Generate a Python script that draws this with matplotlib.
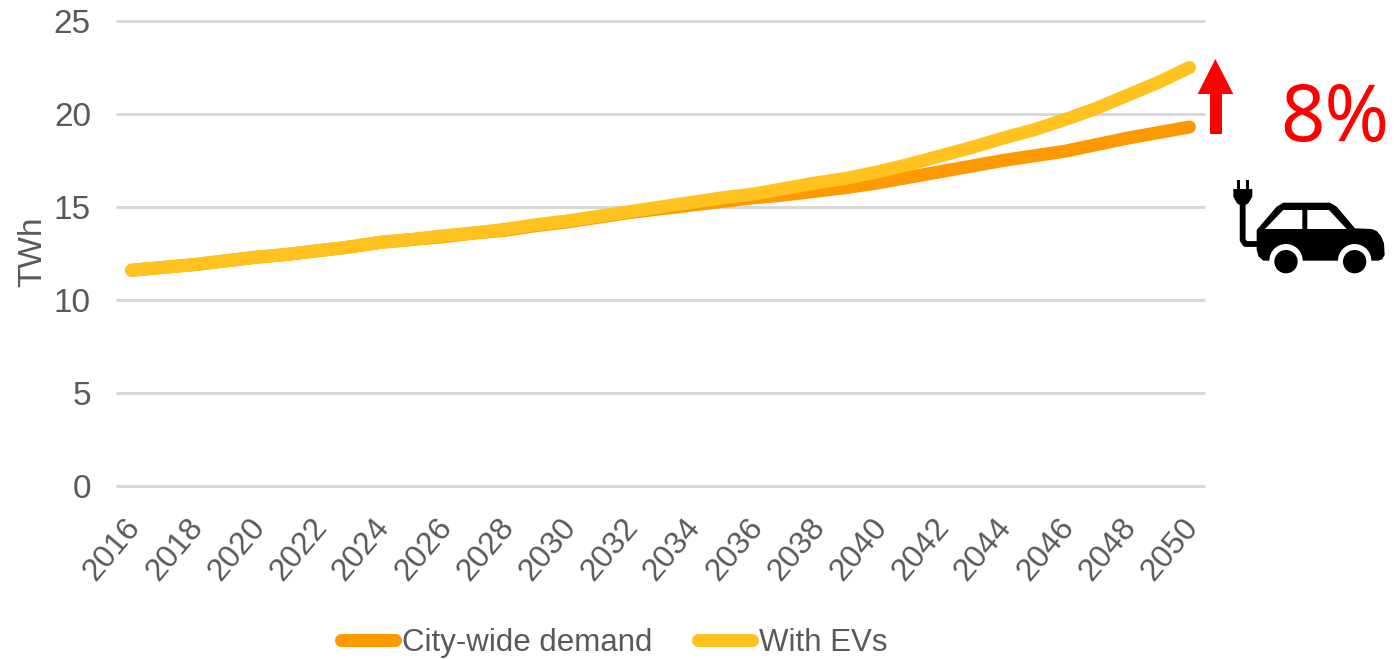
import matplotlib
matplotlib.use("Agg")
import matplotlib.pyplot as plt
from matplotlib.patches import Polygon, Circle, Rectangle
from matplotlib.transforms import ScaledTranslation

years = list(range(2016, 2051))
city_demand = [11.6, 11.75, 11.9, 12.1, 12.3, 12.45, 12.65, 12.85, 13.1, 13.25, 13.4, 13.6,
               13.75, 14.0, 14.2, 14.45, 14.7, 14.9, 15.1, 15.3, 15.5, 15.65, 15.85, 16.05,
               16.3, 16.6, 16.9, 17.2, 17.5, 17.75, 18.0, 18.35, 18.7, 19.0, 19.3]
with_evs = [11.6, 11.75, 11.9, 12.1, 12.3, 12.45, 12.65, 12.85, 13.1, 13.25, 13.45, 13.6,
            13.8, 14.05, 14.25, 14.5, 14.75, 15.0, 15.25, 15.5, 15.7, 16.0, 16.3, 16.55,
            16.9, 17.3, 17.75, 18.2, 18.7, 19.15, 19.7, 20.3, 21.0, 21.7, 22.5]
tick_years = years[::2]
y_ticks = [0, 5, 10, 15, 20, 25]
series_names = ["City-wide demand", "With EVs"]
annotation = "8%"

GREY = "#595959"
W, H = 1400, 659
fig = plt.figure(figsize=(14, 6.59), dpi=100, facecolor="white")
ax = fig.add_axes([116 / W, 1 - 486 / H, (1205 - 116) / W, (486 - 21) / H])
font = "Liberation Sans"

l1, = ax.plot(years, city_demand, color="#FF9900", lw=9.4, solid_capstyle="round", label=series_names[0], zorder=3)
l2, = ax.plot(years, with_evs, color="#FFC21F", lw=9.4, solid_capstyle="round", label=series_names[1], zorder=4)

ax.set_xlim(2015.5, 2050.5)
ax.set_ylim(0, 25)
ax.set_yticks(y_ticks)
ax.set_xticks(tick_years)
ax.set_xticklabels(tick_years, rotation=50, ha="right", rotation_mode="anchor",
                   fontsize=23, color=GREY, family=font)
ax.set_yticklabels(y_ticks, fontsize=24, color=GREY, family=font)
ax.tick_params(axis="both", length=0)
ax.tick_params(axis="y", pad=18)
ax.tick_params(axis="x", pad=19)
shift = ScaledTranslation(-5.5 / 72, 0, fig.dpi_scale_trans)
for lab in ax.get_xticklabels():
    lab.set_transform(lab.get_transform() + shift)
ax.grid(axis="y", color="#D9D9D9", lw=2.2, solid_capstyle="butt")
ax.set_axisbelow(True)
for s in ax.spines.values():
    s.set_visible(False)
for ln in ax.get_ygridlines():
    ln.set_clip_on(False)
ax.set_ylabel("TWh", fontsize=24, color=GREY, family=font)
ax.yaxis.set_label_coords((48 - 116) / (1205 - 116), (486 - 252) / (486 - 21))

leg = fig.legend(handles=[l1, l2], loc="center", bbox_to_anchor=(614 / W, 1 - 643 / H), ncol=2,
                 frameon=False, handlelength=1.72, handletextpad=0.22, columnspacing=1.47,
                 prop={"family": font, "size": 22.5}, borderpad=0, borderaxespad=0)
for t in leg.get_texts():
    t.set_color(GREY)

# overlay in pixel coordinates for the annotation artwork
ov = fig.add_axes([0, 0, 1, 1], facecolor="none")
ov.set_xlim(0, W)
ov.set_ylim(H, 0)
ov.axis("off")

def z(x, y):
    return (1180 + x / 3, 40 + y / 3)

# red arrow
ov.add_patch(Polygon([z(90, 282), z(90, 162), z(53, 162), z(106, 57), z(160, 162), z(126, 162), z(126, 282)],
                     closed=True, fc="#FF0000", ec="none"))
ov.text(1335, 120, annotation, color="#FF0000", fontsize=56, family="Noto Sans", ha="center", va="center")

# car icon
body = [z(230, 570), z(290, 500), z(310, 488), z(450, 488), z(470, 500), z(525, 565), z(575, 567),
        z(590, 573), z(603, 588), z(612, 610), z(614, 645), z(606, 658), z(595, 662),
        z(250, 662), z(236, 650), z(230, 630)]
ov.add_patch(Polygon(body, closed=True, fc="black", ec="none"))
for wx in (318, 524):
    ov.add_patch(Circle(z(wx, 662), 50 / 3, fc="white", ec="none"))
    ov.add_patch(Circle(z(wx, 665), 35 / 3, fc="black", ec="none"))
ov.add_patch(Polygon([z(255, 567), z(310, 510), z(367, 510), z(367, 567)], closed=True, fc="white", ec="none"))
ov.add_patch(Polygon([z(382, 567), z(382, 510), z(447, 510), z(500, 567)], closed=True, fc="white", ec="none"))
# cord and plug
cord = [z(188, 490), z(188, 600), z(196, 612), z(232, 612)]
ov.plot(*zip(*cord), color="black", lw=4.2, solid_capstyle="butt", solid_joinstyle="round")
ov.add_patch(Polygon([z(160, 447), z(217, 447), z(217, 470), z(205, 490), z(188, 500), z(171, 490), z(160, 470)],
                     closed=True, fc="black", ec="none"))
for px in (175, 202):
    ov.add_patch(Rectangle(z(px - 5, 420), 10 / 3, 30 / 3, fc="black", ec="none"))

fig.savefig("out.png", dpi=100)
